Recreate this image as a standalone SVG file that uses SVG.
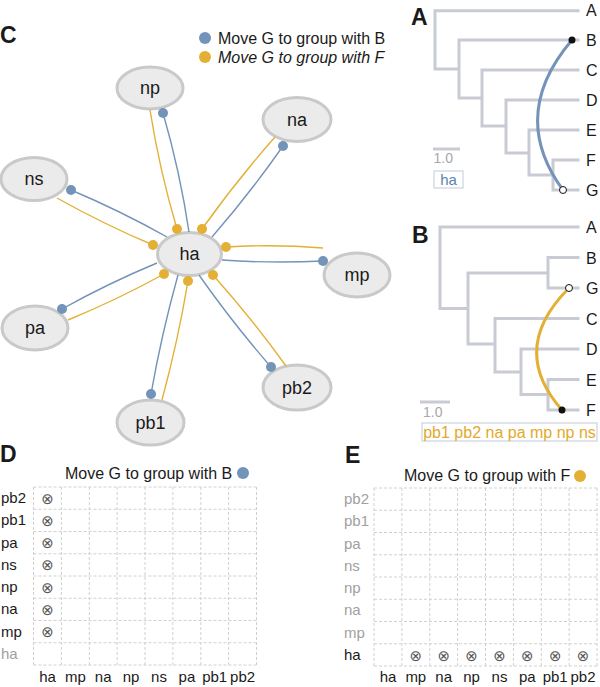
<svg xmlns="http://www.w3.org/2000/svg" width="600" height="687" viewBox="0 0 600 687">
<style>
text{font-family:"Liberation Sans",Arial,sans-serif;fill:#1a1a1a}
.panel{font-size:23px;font-weight:bold}
.node ellipse{fill:#ebebeb;stroke:#c9c9c9;stroke-width:3}
.node text{font-size:18px;text-anchor:middle}
.eb{fill:none;stroke:#7393b9;stroke-width:1.4;marker-end:url(#dotB)}
.eo{fill:none;stroke:#e3b035;stroke-width:1.4;marker-end:url(#dotO)}
.br{fill:none;stroke:#c8cbd3;stroke-width:3;stroke-linecap:square}
.tip{font-size:16px}
.grid{fill:none;stroke:#d0d0d0;stroke-width:1;stroke-dasharray:3,2}
.lab{font-size:15px}
.lab.dim{fill:#a0a0a0}
.colab{font-size:15px;text-anchor:middle}
.x{font-family:"DejaVu Sans",sans-serif;font-size:15px;fill:#555;text-anchor:middle}
.scale{font-size:14px;fill:#a8a8a8}
</style>
<defs>
<marker id="dotB" markerUnits="userSpaceOnUse" markerWidth="12" markerHeight="12" refX="6" refY="6" viewBox="0 0 12 12"><circle cx="6" cy="6" r="5" fill="#7393b9"/></marker>
<marker id="dotO" markerUnits="userSpaceOnUse" markerWidth="12" markerHeight="12" refX="6" refY="6" viewBox="0 0 12 12"><circle cx="6" cy="6" r="5" fill="#e3b035"/></marker>
</defs>
<rect width="600" height="687" fill="#fff"/>

<!-- Panel C -->
<text class="panel" x="0" y="43">C</text>
<g id="legend">
<circle cx="205" cy="38" r="6" fill="#7393b9"/>
<text x="218" y="44" style="font-size:16px">Move G to group with B</text>
<circle cx="205" cy="57" r="6" fill="#e3b035"/>
<text x="218" y="63" style="font-size:16px;font-style:italic">Move G to group with F</text>
</g>

<g id="nodes">
<g id="node-ha" class="node"><ellipse cx="189.5" cy="254" rx="32" ry="21.5"/><text x="189.5" y="260">ha</text></g>
<g id="node-np" class="node"><ellipse cx="150" cy="88" rx="33" ry="21"/><text x="150" y="94">np</text></g>
<g id="node-na" class="node"><ellipse cx="297" cy="119.5" rx="34" ry="22"/><text x="297" y="125.5">na</text></g>
<g id="node-ns" class="node"><ellipse cx="34" cy="179" rx="33" ry="21.5"/><text x="34" y="185">ns</text></g>
<g id="node-mp" class="node"><ellipse cx="357" cy="275" rx="33" ry="22"/><text x="357" y="281">mp</text></g>
<g id="node-pa" class="node"><ellipse cx="35" cy="328" rx="33" ry="22"/><text x="35" y="334">pa</text></g>
<g id="node-pb2" class="node"><ellipse cx="297" cy="387.5" rx="34" ry="22.5"/><text x="297" y="393.5">pb2</text></g>
<g id="node-pb1" class="node"><ellipse cx="150.5" cy="422.5" rx="33.5" ry="22.5"/><text x="150.5" y="428.5">pb1</text></g>
</g>

<g id="connectors">
<path class="eb" d="M189,232 Q180,171.6 163,113"/>
<path class="eo" d="M150,110 Q159.6,170.4 177,229"/>
<path class="eb" d="M212,237 Q249.9,193.4 283,146"/>
<path class="eo" d="M275,137 Q236.1,181.1 202,229"/>
<path class="eb" d="M167,237 Q120.3,210.8 71,190"/>
<path class="eo" d="M57,198 Q103.7,224.2 153,245"/>
<path class="eb" d="M157,263 Q108.2,283.3 62,309"/>
<path class="eo" d="M68,320 Q117.3,299.7 164,274"/>
<path class="eb" d="M222,260 Q272.5,263.5 323,261"/>
<path class="eo" d="M323,248 Q274.5,244 226,247"/>
<path class="eb" d="M199,275 Q232.6,322.9 271,367"/>
<path class="eo" d="M286,366 Q251.9,318.6 213,275"/>
<path class="eb" d="M178,275 Q161.6,333.8 151,394"/>
<path class="eo" d="M162,400 Q177.9,341.2 188,281"/>
</g>

<!-- Panel A -->
<g id="tree-A">
<text class="panel" x="411" y="25">A</text>
<path class="br" d="M435,10.7 H578 M435,10.7 V69 H459 M459,40 H578 M459,40 V98 H482 M482,70 H578 M482,70 V126 H506 M506,100 H578 M506,100 V153 H529 M529,130 H578 M529,130 V175 H553 M553,160 H578 M553,160 V190 H578"/>
<text class="tip" x="586" y="16">A</text>
<text class="tip" x="586" y="46">B</text>
<text class="tip" x="586" y="76">C</text>
<text class="tip" x="586" y="106">D</text>
<text class="tip" x="586" y="136">E</text>
<text class="tip" x="586" y="166">F</text>
<text class="tip" x="586" y="196">G</text>
<path d="M572,40 Q508,115 563,190" fill="none" stroke="#7393b9" stroke-width="3"/>
<circle cx="572" cy="40" r="3.5" fill="#111"/>
<circle cx="563" cy="190" r="3.5" fill="#fff" stroke="#111" stroke-width="1"/>
<line x1="433" y1="149" x2="460" y2="149" stroke="#c8cbd3" stroke-width="3"/>
<text class="scale" x="433.5" y="163">1.0</text>
<rect x="434" y="171" width="29" height="17" fill="#fff" stroke="#ccd3de" stroke-width="1.2"/>
<text x="448.5" y="185" style="font-size:15px;fill:#5b82b0;text-anchor:middle">ha</text>
</g>

<!-- Panel B -->
<g id="tree-B">
<text class="panel" x="412" y="243">B</text>
<path class="br" d="M440,227 H578 M440,227 V308.5 H468 M468,273 V344 M468,273 H548 M548,257.5 H578 M548,257.5 V288 H578 M468,344 H495 M495,318.5 H578 M495,318.5 V372 H521 M521,349 H578 M521,349 V394.5 H548 M548,379.5 H578 M548,379.5 V410 H578"/>
<text class="tip" x="586" y="233">A</text>
<text class="tip" x="586" y="263.5">B</text>
<text class="tip" x="586" y="294">G</text>
<text class="tip" x="586" y="324.5">C</text>
<text class="tip" x="586" y="355">D</text>
<text class="tip" x="586" y="385.5">E</text>
<text class="tip" x="586" y="416">F</text>
<path d="M569,288 Q508,349 562,410" fill="none" stroke="#e3b035" stroke-width="3"/>
<circle cx="562" cy="410" r="3.5" fill="#111"/>
<circle cx="569" cy="288" r="3.5" fill="#fff" stroke="#111" stroke-width="1"/>
<line x1="420" y1="402" x2="450" y2="402" stroke="#c8cbd3" stroke-width="3"/>
<text class="scale" x="423" y="417">1.0</text>
<rect x="422" y="423" width="175" height="18" fill="#fff" stroke="#ccd3de" stroke-width="1.2"/>
<text x="509.5" y="437.5" style="font-size:16px;fill:#e3a92b;text-anchor:middle">pb1 pb2 na pa mp np ns</text>
</g>

<!-- Panel D -->
<g id="matrix-D">
<text class="panel" x="0" y="462">D</text>
<text x="65" y="479" style="font-size:16px">Move G to group with B</text>
<circle cx="243" cy="473" r="6" fill="#7393b9"/>
<path class="grid" d="M33.5,487 H256.5 M33.5,509.25 H256.5 M33.5,531.5 H256.5 M33.5,553.75 H256.5 M33.5,576 H256.5 M33.5,598.25 H256.5 M33.5,620.5 H256.5 M33.5,642.75 H256.5 M33.5,665 H256.5 M33.5,487 V665 M61.4,487 V665 M89.3,487 V665 M117.1,487 V665 M145,487 V665 M172.9,487 V665 M200.8,487 V665 M228.6,487 V665 M256.5,487 V665"/>
<text class="lab" x="1" y="503">pb2</text>
<text class="lab" x="1" y="525">pb1</text>
<text class="lab" x="1" y="547.5">pa</text>
<text class="lab" x="1" y="569.5">ns</text>
<text class="lab" x="1" y="592">np</text>
<text class="lab" x="1" y="614">na</text>
<text class="lab" x="1" y="636.5">mp</text>
<text class="lab dim" x="1" y="658.5">ha</text>
<text class="x" x="47.5" y="503.5">⊗</text>
<text class="x" x="47.5" y="525.5">⊗</text>
<text class="x" x="47.5" y="548">⊗</text>
<text class="x" x="47.5" y="570">⊗</text>
<text class="x" x="47.5" y="592.5">⊗</text>
<text class="x" x="47.5" y="614.5">⊗</text>
<text class="x" x="47.5" y="637">⊗</text>
<text class="colab" x="47.5" y="682">ha</text>
<text class="colab" x="75.4" y="682">mp</text>
<text class="colab" x="103.2" y="682">na</text>
<text class="colab" x="131" y="682">np</text>
<text class="colab" x="159" y="682">ns</text>
<text class="colab" x="186.9" y="682">pa</text>
<text class="colab" x="214.7" y="682">pb1</text>
<text class="colab" x="242.6" y="682">pb2</text>
</g>

<!-- Panel E -->
<g id="matrix-E">
<text class="panel" x="345" y="463">E</text>
<text x="404" y="481" style="font-size:16px">Move G to group with F</text>
<circle cx="580" cy="476" r="6" fill="#e3b035"/>
<path class="grid" d="M374,488 H597 M374,510.25 H597 M374,532.5 H597 M374,554.75 H597 M374,577 H597 M374,599.25 H597 M374,621.5 H597 M374,643.75 H597 M374,666 H597 M374,488 V666 M401.9,488 V666 M429.8,488 V666 M457.6,488 V666 M485.5,488 V666 M513.4,488 V666 M541.3,488 V666 M569.1,488 V666 M597,488 V666"/>
<text class="lab dim" x="344" y="504">pb2</text>
<text class="lab dim" x="344" y="526">pb1</text>
<text class="lab dim" x="344" y="548.5">pa</text>
<text class="lab dim" x="344" y="570.5">ns</text>
<text class="lab dim" x="344" y="593">np</text>
<text class="lab dim" x="344" y="615">na</text>
<text class="lab dim" x="344" y="637.5">mp</text>
<text class="lab" x="344" y="659.5">ha</text>
<text class="x" x="415.8" y="660.5">⊗</text>
<text class="x" x="443.7" y="660.5">⊗</text>
<text class="x" x="471.6" y="660.5">⊗</text>
<text class="x" x="499.5" y="660.5">⊗</text>
<text class="x" x="527.3" y="660.5">⊗</text>
<text class="x" x="555.2" y="660.5">⊗</text>
<text class="x" x="583" y="660.5">⊗</text>
<text class="colab" x="388" y="682">ha</text>
<text class="colab" x="415.8" y="682">mp</text>
<text class="colab" x="443.7" y="682">na</text>
<text class="colab" x="471.6" y="682">np</text>
<text class="colab" x="499.5" y="682">ns</text>
<text class="colab" x="527.3" y="682">pa</text>
<text class="colab" x="555.2" y="682">pb1</text>
<text class="colab" x="583" y="682">pb2</text>
</g>
</svg>
